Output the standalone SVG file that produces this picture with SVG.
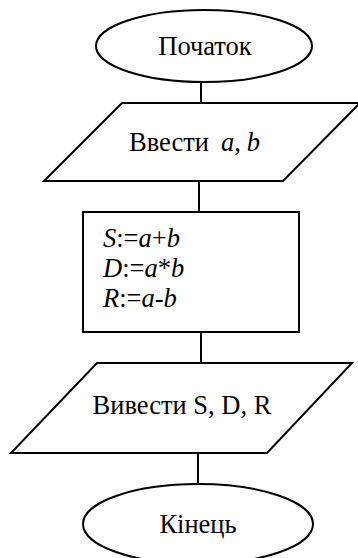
<svg xmlns="http://www.w3.org/2000/svg" width="358" height="558" viewBox="0 0 358 558">
<style>
.s{fill:#fff;stroke:#000;stroke-width:2}
.c{stroke:#000;stroke-width:2;fill:none}
text{font-family:"Liberation Serif","Times New Roman",serif;font-size:26.5px;fill:#000}
.m{text-anchor:middle}
.i{font-style:italic}
</style>
<rect width="358" height="558" fill="#fff"/>
<g id="connectors">
<line class="c" x1="201" y1="82" x2="201" y2="103"/>
<line class="c" x1="199" y1="181" x2="199" y2="212"/>
<line class="c" x1="201" y1="332" x2="201" y2="363"/>
<line class="c" x1="198" y1="453" x2="198" y2="484"/>
</g>
<g id="start">
<ellipse class="s" cx="204" cy="46" rx="108" ry="36"/>
<text class="m" x="205" y="55">Початок</text>
</g>
<g id="input">
<polygon class="s" points="122,103 360,103 283,181 44,181"/>
<text x="129" y="151">Ввести<tspan class="i" dx="12">a</tspan>,<tspan class="i" dx="6">b</tspan></text>
</g>
<g id="process">
<rect class="s" x="83" y="212" width="216" height="120"/>
<text class="i" x="103" y="247">S<tspan font-style="normal">:=</tspan>a<tspan font-style="normal">+</tspan>b</text>
<text class="i" x="103" y="277">D<tspan font-style="normal">:=</tspan>a<tspan font-style="normal">*</tspan>b</text>
<text class="i" x="103" y="307">R<tspan font-style="normal">:=</tspan>a<tspan font-style="normal">-</tspan>b</text>
</g>
<g id="output">
<polygon class="s" points="97,363 352,363 267,453 11,453"/>
<text class="m" x="182" y="414">Вивести S, D, R</text>
</g>
<g id="end">
<ellipse class="s" cx="198" cy="524" rx="115" ry="40"/>
<text class="m" x="198" y="533">Кінець</text>
</g>
</svg>
